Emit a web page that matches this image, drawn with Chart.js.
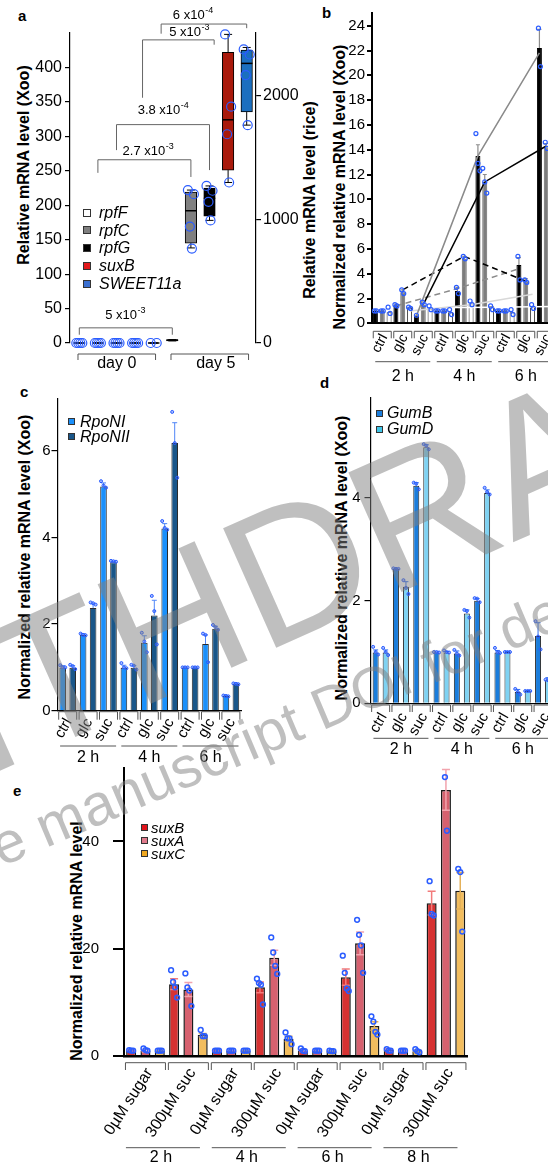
<!DOCTYPE html>
<html>
<head>
<meta charset="utf-8">
<title>figure</title>
<script src="https://cdn.jsdelivr.net/npm/chart.js@4.4.1/dist/chart.umd.min.js"></script>
<style>
  html, body { margin: 0; padding: 0; background: #fff; }
  body { position: relative; width: 548px; height: 1162px; overflow: hidden; font-family: "Liberation Sans", Arial, sans-serif; color: #000; }
  canvas { position: absolute; }
  .letter { position: absolute; font-weight: bold; font-size: 15px; line-height: 16px; }
  .ytitle { position: absolute; font-weight: bold; font-size: 16px; line-height: 18px; white-space: nowrap; transform: translate(-50%, -50%) rotate(-90deg); }
  .legend { position: absolute; font-style: italic; white-space: nowrap; }
  .legend .row { display: flex; align-items: center; }
  .legend .sw { display: inline-block; box-sizing: border-box; border: 1px solid #333; }
  .wm { position: absolute; z-index: 10; white-space: nowrap; line-height: 1; color: rgba(128,128,128,0.5); transform: translate(-50%, -50%) rotate(-24deg); }
</style>
</head>
<body>
<div class="letter" style="left:18px;top:8px">a</div>
<div class="letter" style="left:322px;top:5px">b</div>
<div class="letter" style="left:20px;top:384px">c</div>
<div class="letter" style="left:320px;top:375px">d</div>
<div class="letter" style="left:13px;top:783px">e</div>

<div class="ytitle" style="left:24px;top:165px">Relative mRNA level (Xoo)</div>
<div class="ytitle" style="left:310px;top:200px">Relative mRNA level (rice)</div>
<div class="ytitle" style="left:340px;top:187px">Normalized relative mRNA level (Xoo)</div>
<div class="ytitle" style="left:25px;top:557px">Normalized relative mRNA level (Xoo)</div>
<div class="ytitle" style="left:342px;top:558px">Normalized relative mRNA level (Xoo)</div>
<div class="ytitle" style="left:77px;top:941px">Normalized relative mRNA level</div>

<div class="wm" style="left:338px;top:548px;font-size:190px">WITHDRAWN</div>
<div class="wm" style="left:296px;top:720px;font-size:58px;transform:translate(-50%,-50%) rotate(-23deg)">see manuscript DOI for details</div>

<script>
const FONT = '"Liberation Sans", Arial, sans-serif';
const DOT = '#2a5cff';

// ---------- a: box plots, day 0 / day 5 ----------
const aGenes = ['rpfF', 'rpfC', 'rpfG', 'suxB', 'SWEET11a'];
const aDays = ['day 0', 'day 5'];
// order: day 0 genes, then day 5 genes; SWEET11a is read on the right (rice) axis
const aMin = [0, 0, 0, 0, 0, 3, 138, 178, 233, 1764];
const aQ1 = [0, 0, 0, 0, 0, 3, 145, 184, 251, 1870];
const aMed = [0, 0, 0, 0, 0, 4, 192, 210, 324, 2264];
const aQ3 = [0, 0, 0, 0, 0, 5, 219, 225, 422, 2371];
const aMax = [0, 0, 0, 0, 0, 5, 222, 228, 448, 2393];
const aPoints = [[0, 0, 0, 0], [0, 0, 0, 0], [0, 0, 0, 0], [0, 0, 0, 0], [0, 0], [],
  [222, 216, 169, 137], [228, 221, 205, 178], [448, 343, 303, 233], [2377, 2336, 2169, 1764]];
const aTicksL = [0, 50, 100, 150, 200, 250, 300, 350, 400];
const aTicksR = [0, 1000, 2000];
const aBrackets = [
  {text: '5 x10', exp: '-3', from: 0, to: 5, y: 22, dropL: 12, dropR: 12, labelX: 2.46, labelY: 40},
  {text: '2.7 x10', exp: '-3', from: 1, to: 6, y: 266, dropL: 247, dropR: 241, labelX: 3.69, labelY: 278},
  {text: '3.8 x10', exp: '-4', from: 2, to: 7, y: 317, dropL: 280, dropR: 251, labelX: 4.5, labelY: 338},
  {text: '5 x10', exp: '-3', from: 3.4, to: 7.25, y: 440, dropL: 356, dropR: 433, labelX: 5.9, labelY: 451},
  {text: '6 x10', exp: '-4', from: 4.4, to: 9, y: 463, dropL: 449, dropR: 457, labelX: 6.1, labelY: 476}
];
const aColors = ['#ffffff', '#808080', '#000000', '#a91a0c', '#1b6fbf'];
const aLegendColors = ['#ffffff', '#7f7f7f', '#000000', '#e3191c', '#3a6fd0'];

// ---------- b ----------
const bHours = ['2 h', '4 h', '6 h'];
const bSugars = ['ctrl', 'glc', 'suc'];
const bBlack = [1.0, 1.45, 0.6, 1.0, 2.6, 13.5, 1.0, 4.7, 22.2];
const bGrey = [1.0, 2.5, 1.5, 1.0, 5.2, 11.4, 1.0, 3.4, 14.2];
const bWhite = [0.9, 1.3, 1.2, 0.9, 1.6, 1.4, 0.9, 1.3, 1.3];
const bBlackErr = [0.05, 0.1, 0.05, 0.05, 0.3, 0.9, 0.05, 0.6, 1.5];
const bGreyErr = [0.05, 0.2, 0.1, 0.05, 0.2, 0.6, 0.05, 0.2, 0.3];
const bBlackDots = [[1.0, 1.0], [1.5, 1.4], [0.65], [1.0, 1.0], [2.9, 2.4], [15.3, 12.9, 12.3], [1.0, 1.0], [5.4, 3.5], [23.8, 20.7]];
const bGreyDots = [[1.0, 1.0], [2.7, 2.4], [1.7, 1.5], [1.0, 1.0], [5.4, 5.2], [12.5, 11.4, 10.5], [1.0, 1.0], [3.5, 3.3], [14.6, 14.1]];
const bWhiteDots = [[1.3, 0.8], [1.3, 1.2], [1.4, 1.1], [1.1, 0.7], [1.8, 1.5], [1.4, 1.1], [1.1, 0.7], [1.5, 1.2], [1.4, 1.2]];
// trend lines over 2 h, 4 h, 6 h
const bTrendSucBlack = [0.6, 13.5, 21.8];
const bTrendSucGrey = [1.5, 11.4, 14.3];
const bTrendGlcGrey = [2.7, 5.4, 3.4];
const bTrendGlcBlack = [1.4, 2.8, 4.4];
const bTrendGlcWhite = [1.0, 1.5, 2.35];
const bTrendSucWhite = [1.25, 1.3, 1.35];
const bTicks = [0, 2, 4, 6, 8, 10, 12, 14, 16, 18, 20, 22, 24];

// ---------- c ----------
const cHours = ['2 h', '4 h', '6 h'];
const cSugars = ['ctrl', 'glc', 'suc'];
const cRpoNI = [1.0, 1.75, 5.18, 0.99, 1.57, 4.21, 1.0, 1.54, 0.34];
const cRpoNII = [0.99, 2.37, 3.43, 0.99, 2.2, 6.18, 1.0, 1.89, 0.62];
const cErrI = [0.04, 0.03, 0.08, 0.06, 0.16, 0.11, 0.01, 0.21, 0.02];
const cErrII = [0.05, 0.1, 0.02, 0.05, 0.35, 0.47, 0.01, 0.06, 0.02];
const cDotsI = [[1.05, 1.0, 1.0], [1.78, 1.75, 1.74], [5.3, 5.2, 5.15], [1.1, 1.0, 0.98], [1.8, 1.6, 1.35], [4.38, 4.22, 4.18], [1.0, 1.0, 1.0], [1.78, 1.75, 1.12], [0.35, 0.34, 0.33]];
const cDotsII = [[1.06, 1.03, 0.96], [2.5, 2.48, 2.45], [3.46, 3.45, 3.44], [1.06, 1.04, 0.95], [2.65, 2.3, 1.53], [6.9, 6.18, 5.38], [1.0, 1.0, 1.0], [1.98, 1.93, 1.87], [0.63, 0.62, 0.61]];
const cTicks = [0, 2, 4, 6];

// ---------- d ----------
const dGumB = [0.99, 2.62, 4.24, 0.99, 0.97, 2.0, 0.99, 0.22, 1.31];
const dGumD = [0.99, 2.27, 4.99, 0.99, 1.75, 4.1, 1.0, 0.24, 0.45];
const dErrB = [0.05, 0.01, 0.06, 0.01, 0.05, 0.04, 0.04, 0.05, 0.26];
const dErrD = [0.05, 0.1, 0.05, 0.02, 0.07, 0.06, 0.01, 0.01, 0.05];
const dDotsB = [[1.1, 1.0, 0.95], [2.63, 2.62, 2.62], [4.3, 4.28, 4.17], [1.0, 1.0, 0.99], [1.04, 0.97, 0.93], [2.05, 2.04, 1.97], [1.08, 1.0, 0.98], [0.28, 0.22, 0.17], [1.6, 1.3, 1.05]];
const dDotsD = [[1.08, 1.0, 0.94], [2.4, 2.25, 2.13], [5.05, 5.02, 4.95], [1.03, 1.0, 0.99], [1.82, 1.8, 1.67], [4.2, 4.12, 4.07], [1.0, 1.0, 1.0], [0.24, 0.24, 0.24], [0.46, 0.45, 0.44]];
const dTicks = [0, 2, 4];

// ---------- e ----------
const eHours = ['2 h', '4 h', '6 h', '8 h'];
const eTreat = ['0µM sugar', '300µM suc'];
const eSuxB = [1.0, 13.4, 1.0, 12.8, 1.0, 14.7, 1.1, 28.5];
const eSuxA = [1.0, 12.4, 1.0, 18.3, 1.0, 21.0, 1.0, 49.6];
const eSuxC = [1.0, 3.9, 1.0, 3.2, 0.9, 5.6, 0.9, 30.8];
const eErrB = [0.1, 1.0, 0.1, 1.0, 0.2, 1.5, 0.2, 2.2];
const eErrA = [0.2, 1.3, 0.05, 1.4, 0.05, 2.1, 0.1, 3.8];
const eErrC = [0.05, 0.3, 0.05, 0.5, 0.05, 0.8, 0.2, 3.4];
const eDotsB = [[1.1, 1.0, 1.0], [16.0, 13.8, 12.8, 10.9], [1.0, 1.0, 1.0], [14.4, 13.6, 13.3, 9.6], [1.4, 1.0, 0.9], [18.7, 15.5, 12.6, 12.1], [1.3, 1.0, 1.0], [32.6, 26.5, 26.2]];
const eDotsA = [[1.4, 1.1, 1.0], [15.4, 12.8, 12.2, 9.3], [1.0, 1.0, 1.0], [22.1, 19.3, 16.8, 15.3], [1.0, 1.0, 1.0], [25.4, 22.6, 20.6, 15.5], [1.0, 1.0, 1.0], [52.0, 42.0]];
const eDotsC = [[1.0, 1.0, 1.0], [4.85, 3.7, 3.7], [1.0, 1.0, 1.0], [4.4, 3.3, 3.3, 2.2], [1.0, 0.9, 0.9], [7.4, 6.4, 4.5, 4.0], [1.3, 0.9, 0.7], [34.9, 34.3, 23.2]];
const eTicks = [0, 20, 40];

// ---------- helpers ----------
function makeCanvas(left, top, width, height) {
  const c = document.createElement('canvas');
  c.width = width; c.height = height;
  c.style.left = left + 'px'; c.style.top = top + 'px';
  c.style.width = width + 'px'; c.style.height = height + 'px';
  document.body.appendChild(c);
  return c;
}

function legend(x, yc, items, o) {
  const box = document.createElement('div');
  box.className = 'legend';
  box.style.left = x + 'px';
  box.style.top = (yc - o.row / 2) + 'px';
  box.style.fontSize = o.size + 'px';
  items.forEach(it => {
    const r = document.createElement('div');
    r.className = 'row';
    r.style.height = o.row + 'px';
    const s = document.createElement('span');
    s.className = 'sw';
    s.style.width = o.sq + 'px'; s.style.height = o.sq + 'px';
    s.style.background = it.color; s.style.marginRight = o.gap + 'px';
    r.appendChild(s);
    r.appendChild(document.createTextNode(it.label));
    box.appendChild(r);
  });
  document.body.appendChild(box);
}

function yAxis(ticks, max, o) {
  return {
    min: 0, max: max, position: o.position || 'left',
    grid: {drawOnChartArea: false, drawTicks: true, tickLength: o.tickLen, color: '#000', lineWidth: o.axisW},
    border: {display: true, color: '#000', width: o.axisW},
    ticks: {autoSkip: false, font: {family: FONT, size: o.tickSize}, color: '#000', padding: o.tickPad, callback: v => String(v)},
    afterBuildTicks: s => { s.ticks = ticks.map(v => ({value: v})); },
    afterFit: s => { s.width = o.width; }
  };
}

function drawGroupAxis(chart, ax, cats, groups, per) {
  const ctx = chart.ctx, x = chart.scales.x, base = chart.chartArea.bottom;
  ctx.save();
  ctx.strokeStyle = '#555'; ctx.lineWidth = 1; ctx.fillStyle = '#000';
  cats.forEach((lab, i) => {
    const cx = x.getPixelForValue(i);
    const t = base + ax.boxTop, b = t + ax.boxDrop;
    ctx.beginPath();
    ctx.moveTo(cx - ax.boxHalf, b); ctx.lineTo(cx - ax.boxHalf, t);
    ctx.lineTo(cx + ax.boxHalf, t); ctx.lineTo(cx + ax.boxHalf, b);
    ctx.stroke();
    ctx.save();
    ctx.translate(cx + ax.labelDx, base + ax.labelDy);
    ctx.rotate(-ax.rot * Math.PI / 180);
    ctx.font = ax.labelFont + 'px ' + FONT;
    ctx.textAlign = 'right'; ctx.textBaseline = 'middle';
    ctx.fillText(lab, 0, 0);
    ctx.restore();
  });
  groups.forEach((g, k) => {
    const x0 = x.getPixelForValue(k * per), x1 = x.getPixelForValue(k * per + per - 1);
    const mid = (x0 + x1) / 2 + (ax.groupShift || 0);
    ctx.beginPath();
    ctx.moveTo(mid - ax.groupHalf, base + ax.lineY); ctx.lineTo(mid + ax.groupHalf, base + ax.lineY);
    ctx.stroke();
    ctx.font = ax.groupFont + 'px ' + FONT;
    ctx.textAlign = 'center'; ctx.textBaseline = 'middle';
    ctx.fillText(g, mid + (ax.textShift || 0), base + ax.textY);
  });
  ctx.restore();
}

function barPanel(cfg) {
  const {left, top, width, height, hours, subs, series, trends = [], yTicks, yMax,
    tickSize = 15, tickPad = 3, tickLen = 5, axisW = 1.2, xAxisW = axisW,
    yWidth, padTop, padRight, xHeight, catPct = 0.98, barPct = 0.66,
    dotR = 1.7, dotW = 1, dotFill = null, jit = 0, errW = 1, capW = 2.5, errBoth = false, ax} = cfg;
  const cats = hours.flatMap(() => subs);
  const per = subs.length;
  const n = series.length;
  // position of series si inside its category, in category units
  const off = si => (si - (n - 1) / 2) * catPct / n;
  const datasets = series.map(s => ({
    label: s.label, data: s.data,
    backgroundColor: s.color, borderColor: s.border || '#2b2b2b', borderWidth: s.bw ?? 1,
    categoryPercentage: catPct, barPercentage: barPct
  }));
  const deco = {
    id: 'deco',
    afterDatasetsDraw(chart) {
      const ctx = chart.ctx, x = chart.scales.x, y = chart.scales.y;
      ctx.save();
      // trend lines joining bars across the time points
      trends.forEach(t => {
        ctx.strokeStyle = t.color; ctx.lineWidth = t.width || 1.5;
        ctx.setLineDash(t.dash || []);
        ctx.beginPath();
        t.values.forEach((v, k) => {
          const px = x.getPixelForValue(k * per + t.sub + off(t.series)), py = y.getPixelForValue(v);
          if (k === 0) ctx.moveTo(px, py); else ctx.lineTo(px, py);
        });
        ctx.stroke();
      });
      ctx.setLineDash([]);
      series.forEach((s, si) => {
        chart.getDatasetMeta(si).data.forEach((bar, i) => {
          const bx = bar.x;
          if (s.err) {
            const v = s.data[i], e = s.err[i];
            const yt = y.getPixelForValue(v + e), yb = y.getPixelForValue(errBoth ? v - e : v);
            ctx.strokeStyle = s.errColor; ctx.lineWidth = errW;
            ctx.beginPath();
            ctx.moveTo(bx, yb); ctx.lineTo(bx, yt);
            ctx.moveTo(bx - capW, yt); ctx.lineTo(bx + capW, yt);
            if (errBoth) { ctx.moveTo(bx - capW, yb); ctx.lineTo(bx + capW, yb); }
            ctx.stroke();
          }
          if (s.dots) {
            const d = s.dots[i];
            d.forEach((v, k) => {
              const dx = (k - (d.length - 1) / 2) * jit;
              ctx.beginPath();
              ctx.arc(bx + dx, y.getPixelForValue(v), dotR, 0, Math.PI * 2);
              if (dotFill) { ctx.fillStyle = dotFill; ctx.fill(); }
              ctx.strokeStyle = DOT; ctx.lineWidth = dotW;
              ctx.stroke();
            });
          }
        });
      });
      ctx.restore();
      drawGroupAxis(chart, ax, cats, hours, per);
    }
  };
  return new Chart(makeCanvas(left, top, width, height), {
    type: 'bar',
    data: {labels: cats, datasets},
    options: {
      responsive: false, animation: false, devicePixelRatio: 1,
      layout: {padding: {top: padTop, right: padRight, left: 0, bottom: 0}},
      plugins: {legend: {display: false}, tooltip: {enabled: false}},
      scales: {
        x: {
          grid: {display: false}, ticks: {display: false},
          border: {display: true, color: '#000', width: xAxisW},
          afterFit: s => { s.height = xHeight; }
        },
        y: yAxis(yTicks, yMax, {tickLen, axisW, tickSize, tickPad, width: yWidth})
      }
    },
    plugins: [deco]
  });
}

// ---------- panel a ----------
const aCats = aDays.flatMap(d => aGenes.map(g => g + ' ' + d));
const boxPlugin = {
  id: 'boxes',
  afterDatasetsDraw(chart) {
    const ctx = chart.ctx, xs = chart.scales.x, yl = chart.scales.y;
    const jitter = [-3, 3, -1, 1];
    ctx.save();
    aQ1.forEach((q1, i) => {
      const ys = i % 5 === 4 ? chart.scales.y1 : yl;
      const p = v => ys.getPixelForValue(v);
      const x = xs.getPixelForValue(i), hw = 5.75;
      ctx.strokeStyle = '#000'; ctx.lineWidth = 1;
      ctx.beginPath();
      ctx.moveTo(x, p(aQ3[i])); ctx.lineTo(x, p(aMax[i]));
      ctx.moveTo(x, p(q1)); ctx.lineTo(x, p(aMin[i]));
      ctx.moveTo(x - 4, p(aMax[i])); ctx.lineTo(x + 4, p(aMax[i]));
      ctx.moveTo(x - 4, p(aMin[i])); ctx.lineTo(x + 4, p(aMin[i]));
      ctx.stroke();
      ctx.lineWidth = 1.5;
      ctx.beginPath(); ctx.moveTo(x - hw, p(aMed[i])); ctx.lineTo(x + hw, p(aMed[i])); ctx.stroke();
      ctx.strokeStyle = DOT; ctx.lineWidth = 1.2;
      aPoints[i].forEach((v, k) => {
        ctx.beginPath(); ctx.arc(x + jitter[k % 4], p(v), 4.5, 0, Math.PI * 2); ctx.stroke();
      });
    });
    // significance brackets
    aBrackets.forEach(b => {
      const x1 = xs.getPixelForValue(b.from), x2 = xs.getPixelForValue(b.to), yy = yl.getPixelForValue(b.y);
      ctx.strokeStyle = '#666'; ctx.lineWidth = 1;
      ctx.beginPath();
      ctx.moveTo(x1, yl.getPixelForValue(b.dropL)); ctx.lineTo(x1, yy);
      ctx.lineTo(x2, yy); ctx.lineTo(x2, yl.getPixelForValue(b.dropR));
      ctx.stroke();
      ctx.font = '13px ' + FONT; const w1 = ctx.measureText(b.text).width;
      ctx.font = '9px ' + FONT; const w2 = ctx.measureText(b.exp).width;
      const lx = xs.getPixelForValue(b.labelX) - (w1 + w2) / 2, ly = yl.getPixelForValue(b.labelY);
      ctx.fillStyle = '#000'; ctx.textAlign = 'left'; ctx.textBaseline = 'middle';
      ctx.font = '13px ' + FONT; ctx.fillText(b.text, lx, ly);
      ctx.font = '9px ' + FONT; ctx.fillText(b.exp, lx + w1 + 0.5, ly - 5);
    });
    // day brackets
    const base = chart.chartArea.bottom;
    aDays.forEach((d, k) => {
      const x0 = xs.getPixelForValue(k * 5 - 0.07), x1 = xs.getPixelForValue(k * 5 + 4.1);
      ctx.strokeStyle = '#555'; ctx.lineWidth = 1;
      ctx.beginPath();
      ctx.moveTo(x0, base + 17); ctx.lineTo(x0, base + 11); ctx.lineTo(x1, base + 11); ctx.lineTo(x1, base + 17);
      ctx.stroke();
      ctx.font = '16px ' + FONT; ctx.fillStyle = '#000'; ctx.textAlign = 'center'; ctx.textBaseline = 'middle';
      ctx.fillText(d, (x0 + x1) / 2 + k * 6, base + 21);
    });
    ctx.restore();
  }
};

new Chart(makeCanvas(0, 0, 340, 385), {
  type: 'bar',
  data: {
    labels: aCats,
    datasets: [
      {label: 'Xoo', yAxisID: 'y', grouped: false, barThickness: 11.5, borderSkipped: false,
        data: aQ1.map((q, i) => i % 5 === 4 ? null : [q, aQ3[i]]),
        backgroundColor: aCats.map((c, i) => aColors[i % 5]), borderColor: '#000', borderWidth: 1},
      {label: 'rice', yAxisID: 'y1', grouped: false, barThickness: 11.5, borderSkipped: false,
        data: aQ1.map((q, i) => i % 5 === 4 ? [q, aQ3[i]] : null),
        backgroundColor: aColors[4], borderColor: '#000', borderWidth: 1}
    ]
  },
  options: {
    responsive: false, animation: false, devicePixelRatio: 1,
    layout: {padding: {top: 33, bottom: 42, left: 0, right: 0}},
    plugins: {legend: {display: false}, tooltip: {enabled: false}},
    scales: {
      x: {display: false},
      y: yAxis(aTicksL, 450, {tickLen: 5, axisW: 1.2, tickSize: 16, tickPad: 3, width: 70}),
      y1: yAxis(aTicksR, 2510, {position: 'right', tickLen: 5, axisW: 1.2, tickSize: 16, tickPad: 2, width: 84})
    }
  },
  plugins: [boxPlugin]
});
legend(83, 212.7, aGenes.map((g, i) => ({label: g, color: aLegendColors[i]})), {sq: 8, gap: 8, row: 17.8, size: 16});

// ---------- panel b ----------
barPanel({
  left: 320, top: 0, width: 260, height: 385,
  hours: bHours, subs: bSugars,
  series: [
    {label: 'black', data: bBlack, color: '#000', border: '#000', err: bBlackErr, errColor: '#8c8c8c', dots: bBlackDots},
    {label: 'grey', data: bGrey, color: '#7d7d7d', border: '#6a6a6a', err: bGreyErr, errColor: '#8c8c8c', dots: bGreyDots},
    {label: 'white', data: bWhite, color: '#ffffff', border: '#333', dots: bWhiteDots}
  ],
  trends: [
    {values: bTrendSucWhite, series: 2, sub: 2, color: '#ffffff'},
    {values: bTrendGlcWhite, series: 2, sub: 1, color: '#d8d8d8'},
    {values: bTrendGlcBlack, series: 0, sub: 1, color: '#8a8a8a', dash: [6, 4]},
    {values: bTrendGlcGrey, series: 1, sub: 1, color: '#000', dash: [6, 4]},
    {values: bTrendSucGrey, series: 1, sub: 2, color: '#000'},
    {values: bTrendSucBlack, series: 0, sub: 2, color: '#8a8a8a'}
  ],
  yTicks: bTicks, yMax: 25, tickSize: 15, tickPad: 2, tickLen: 5, axisW: 2,
  yWidth: 52, padTop: 13.3, padRight: 23.5, xHeight: 61.7,
  catPct: 1.0, barPct: 0.73, dotR: 2, dotW: 1.2, jit: 2, errW: 1.2, capW: 2,
  ax: {boxTop: 8, boxDrop: 7, boxHalf: 9, labelDx: 2, labelDy: 12, rot: 62, labelFont: 14,
    lineY: 38.4, textY: 53.4, groupHalf: 27.5, groupFont: 16}
});

// ---------- panel c ----------
barPanel({
  left: 0, top: 385, width: 260, height: 400,
  hours: cHours, subs: cSugars,
  series: [
    {label: 'RpoNI', data: cRpoNI, color: '#1a90fb', err: cErrI, errColor: '#4f86f7', dots: cDotsI},
    {label: 'RpoNII', data: cRpoNII, color: '#195689', err: cErrII, errColor: '#4f86f7', dots: cDotsII}
  ],
  yTicks: cTicks, yMax: 7.2, tickSize: 15, tickPad: 1, tickLen: 6, axisW: 1.2,
  yWidth: 57.5, padTop: 13.9, padRight: 18.9, xHeight: 74.3,
  catPct: 0.98, barPct: 0.66, dotR: 1.5, dotW: 1, dotFill: 'rgba(42,92,255,0.4)', jit: 2.5,
  ax: {boxTop: 1, boxDrop: 8, boxHalf: 9, labelDx: 1, labelDy: 9, rot: 60, labelFont: 15,
    lineY: 35.3, textY: 47, groupHalf: 28, groupFont: 16}
});
legend(68, 421.7, [{label: 'RpoNI', color: '#1a90fb'}, {label: 'RpoNII', color: '#195689'}], {sq: 7, gap: 5, row: 15, size: 16});

// ---------- panel d ----------
barPanel({
  left: 320, top: 385, width: 260, height: 400,
  hours: cHours, subs: cSugars,
  series: [
    {label: 'GumB', data: dGumB, color: '#1a7ddc', err: dErrB, errColor: '#2d6cf0', dots: dDotsB},
    {label: 'GumD', data: dGumD, color: '#7fd2f2', err: dErrD, errColor: '#2d6cf0', dots: dDotsD}
  ],
  yTicks: dTicks, yMax: 5.95, tickSize: 15, tickPad: 4, tickLen: 6, axisW: 1.2,
  yWidth: 50.5, padTop: 8.3, padRight: 26.8, xHeight: 81.7,
  catPct: 0.985, barPct: 0.6, dotR: 1.5, dotW: 1, dotFill: 'rgba(42,92,255,0.4)', jit: 2.5,
  ax: {boxTop: 1.7, boxDrop: 7, boxHalf: 9, labelDx: 3, labelDy: 11, rot: 60, labelFont: 15,
    lineY: 35, textY: 46.7, groupHalf: 27.5, groupFont: 16}
});
legend(376, 413.3, [{label: 'GumB', color: '#1a7ddc'}, {label: 'GumD', color: '#3fc6e8'}], {sq: 7, gap: 4, row: 16, size: 16});

// ---------- panel e ----------
barPanel({
  left: 0, top: 730, width: 548, height: 432,
  hours: eHours, subs: eTreat,
  series: [
    {label: 'suxB', data: eSuxB, color: '#d63232', border: '#1a1a1a', bw: 1.5, err: eErrB, errColor: '#f27b7b', dots: eDotsB},
    {label: 'suxA', data: eSuxA, color: '#d6616f', border: '#1a1a1a', bw: 1.5, err: eErrA, errColor: '#f2a3ad', dots: eDotsA},
    {label: 'suxC', data: eSuxC, color: '#f2bd5e', border: '#1a1a1a', bw: 1.5, err: eErrC, errColor: '#e4b15a', dots: eDotsC}
  ],
  yTicks: eTicks, yMax: 53.7, tickSize: 15, tickPad: 14, tickLen: 11, axisW: 2, xAxisW: 2.5,
  yWidth: 124, padTop: 38, padRight: 80.6, xHeight: 106,
  catPct: 1.0, barPct: 0.7, dotR: 2.4, dotW: 1.5, jit: 2, errW: 1.5, capW: 4, errBoth: true,
  ax: {boxTop: 6.7, boxDrop: 7.3, boxHalf: 20, labelDx: 4, labelDy: 14, rot: 57, labelFont: 16,
    lineY: 91.7, textY: 102, groupHalf: 37, groupShift: -4, textShift: -2, groupFont: 16}
});
legend(141, 827.3, [{label: 'suxB', color: '#e0141c'}, {label: 'suxA', color: '#e07a8c'}, {label: 'suxC', color: '#f0a820'}], {sq: 7, gap: 3, row: 13.3, size: 15});
</script>
</body>
</html>
